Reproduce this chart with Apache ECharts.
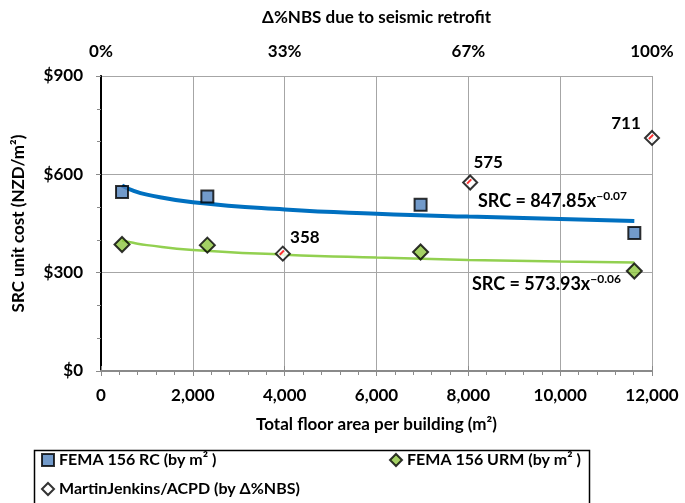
<!DOCTYPE html>
<html><head><meta charset="utf-8">
<script src="https://cdn.jsdelivr.net/npm/echarts@6/dist/echarts.min.js"></script>
<style>html,body{margin:0;padding:0;background:#fff}#c{width:685px;height:503px}</style>
</head><body><div id="c"></div>
<script>
// ---- data ----
const rcArea = [458, 2316, 6960, 11615];
const rcCost = [546, 532, 507, 421];
const urmArea = [458, 2316, 6960, 11615];
const urmCost = [386, 384, 363, 305];
const mjNBS = [33, 67, 100];          // Δ%NBS
const mjCost = [358, 575, 711];
const rcTrendX = [458, 700, 1000, 2000, 4000, 6000, 8000, 10000, 11615];
const rcTrendY = [566, 550, 538, 515, 493, 480, 471, 464, 458];
const urmTrendX = [458, 700, 1000, 2000, 4000, 6000, 8000, 10000, 11615];
const urmTrendY = [398, 391, 384, 369, 355, 346, 339, 334, 331];
const topTicks = [0, 33.33, 66.67, 100];
const topTickLabels = ['0%', '33%', '67%', '100%'];
const rcName = 'FEMA 156 RC (by m\u00B2 )';
const urmName = 'FEMA 156 URM (by m\u00B2 )';
const mjName = 'MartinJenkins/ACPD (by \u0394%NBS)';

const F = 'Lato';
const zip = (a, b) => a.map((v, i) => [v, b[i]]);
const gray = '#8a8a8a';
const grid = '#a6a6a6';
const mjLabelOffsets = [[22, 6], [18, 2], [-26, 8]];
const boldText = { fontFamily: F, fontSize: 17, fontWeight: 'bold', color: '#000' };

const chart = echarts.init(document.getElementById('c'));
chart.setOption({
  animation: false,
  textStyle: { fontFamily: F },
  grid: { left: 101, right: 33, top: 76, bottom: 132 },
  xAxis: [{
    type: 'value', position: 'bottom', min: 0, max: 12000, interval: 2000,
    axisLine: { show: true, lineStyle: { color: gray, width: 2 } },
    axisTick: { show: true, length: 5, lineStyle: { color: gray } },
    minorTick: { show: true, splitNumber: 5, length: 4, lineStyle: { color: gray } },
    splitLine: { show: true, lineStyle: { color: grid, width: 1 } },
    axisLabel: Object.assign({ margin: 16, formatter: v => v.toLocaleString('en-US') }, boldText),
    name: 'Total floor area per building (m\u00B2)', nameLocation: 'middle', nameGap: 45,
    nameTextStyle: boldText
  }, {
    type: 'value', position: 'top', min: 0, max: 100,
    axisLine: { show: true, lineStyle: { color: gray, width: 2 } },
    axisTick: { show: true, length: 5, lineStyle: { color: gray }, customValues: topTicks },
    splitLine: { show: false },
    axisLabel: Object.assign({ margin: 16, customValues: topTicks,
      formatter: v => topTickLabels[topTicks.indexOf(v)] }, boldText),
    name: 'Δ%NBS due to seismic retrofit', nameLocation: 'middle', nameGap: 50,
    nameTextStyle: boldText
  }],
  yAxis: [{
    type: 'value', position: 'left', min: 0, max: 900, interval: 300,
    axisLine: { show: true, lineStyle: { color: gray, width: 2 } },
    axisTick: { show: true, length: 5, lineStyle: { color: gray } },
    minorTick: { show: true, splitNumber: 3, length: 4, lineStyle: { color: gray } },
    splitLine: { show: true, lineStyle: { color: grid, width: 1 } },
    axisLabel: Object.assign({ margin: 18, formatter: v => '$' + v }, boldText),
    name: 'SRC unit cost (NZD/m\u00B2)', nameLocation: 'middle', nameGap: 74, nameRotate: 90,
    nameTextStyle: boldText
  }, {
    type: 'value', position: 'right', min: 0, max: 900, interval: 300,
    axisLine: { show: true, lineStyle: { color: '#000', width: 2 } },
    axisTick: { show: false }, axisLabel: { show: false }, splitLine: { show: false }
  }],
  legend: [{
    left: 36, top: 447, itemWidth: 12, itemHeight: 12, itemGap: 10,
    textStyle: { fontSize: 16, fontWeight: 'bold', color: '#000', fontFamily: F },
    data: [rcName]
  }, {
    left: 384, top: 447, itemWidth: 12, itemHeight: 12,
    textStyle: { fontSize: 16, fontWeight: 'bold', color: '#000', fontFamily: F },
    data: [urmName]
  }, {
    left: 36, top: 476, itemWidth: 12, itemHeight: 12,
    textStyle: { fontSize: 16, fontWeight: 'bold', color: '#000', fontFamily: F },
    data: [mjName]
  }],
  graphic: [{
    type: 'rect', left: 32, top: 448, shape: { width: 555, height: 70 },
    style: { fill: 'none', stroke: '#000', lineWidth: 1.5 }, z: -1
  }, {
    type: 'text', left: 478, top: 190, z: 10,
    style: { text: '{b|SRC = 847.85x}{s|\u22120.07}', rich: {
      b: { fontFamily: F, fontSize: 18, fontWeight: 'bold', fill: '#000' },
      s: { fontFamily: F, fontSize: 12, fontWeight: 'bold', fill: '#000', padding: [0, 0, 10, 0] } } }
  }, {
    type: 'text', left: 472, top: 273, z: 10,
    style: { text: '{b|SRC = 573.93x}{s|\u22120.06}', rich: {
      b: { fontFamily: F, fontSize: 18, fontWeight: 'bold', fill: '#000' },
      s: { fontFamily: F, fontSize: 12, fontWeight: 'bold', fill: '#000', padding: [0, 0, 10, 0] } } }
  }],
  series: [{
    name: 'rcTrend', type: 'line', data: zip(rcTrendX, rcTrendY), smooth: 0.5, symbol: 'none',
    lineStyle: { color: '#0070C0', width: 4 }, z: 2, silent: true
  }, {
    name: 'urmTrend', type: 'line', data: zip(urmTrendX, urmTrendY), smooth: 0.5, symbol: 'none',
    lineStyle: { color: '#92D050', width: 2.5 }, z: 2, silent: true
  }, {
    name: rcName, type: 'scatter', data: zip(rcArea, rcCost), symbol: 'rect', symbolSize: 12,
    itemStyle: { color: '#4F81BD', borderColor: '#000', borderWidth: 2 }, z: 5
  }, {
    name: urmName, type: 'scatter', data: zip(urmArea, urmCost), symbol: 'diamond', symbolSize: 15,
    itemStyle: { color: '#8DC63F', borderColor: '#000', borderWidth: 2 }, z: 5
  }, {
    name: mjName, type: 'scatter', xAxisIndex: 1, data: mjNBS.map((v, i) => ({
      value: [v, mjCost[i]],
      label: Object.assign({ show: true, position: 'top', distance: 6, offset: mjLabelOffsets[i],
        opacity: 1, formatter: p => p.value[1] }, boldText)
    })), symbol: 'diamond', symbolSize: 14,
    itemStyle: { color: '#fff', borderColor: '#000', borderWidth: 2 }, z: 6,
    label: Object.assign({ show: true }, boldText)
  }, {
    name: 'mjInner', type: 'scatter', xAxisIndex: 1, data: zip(mjNBS, mjCost), symbol: 'rect', symbolSize: [6, 2],
    symbolRotate: 45, symbolOffset: [-1, -1],
    itemStyle: { color: '#FF0000' }, z: 7, silent: true
  }]
});
</script></body></html>
